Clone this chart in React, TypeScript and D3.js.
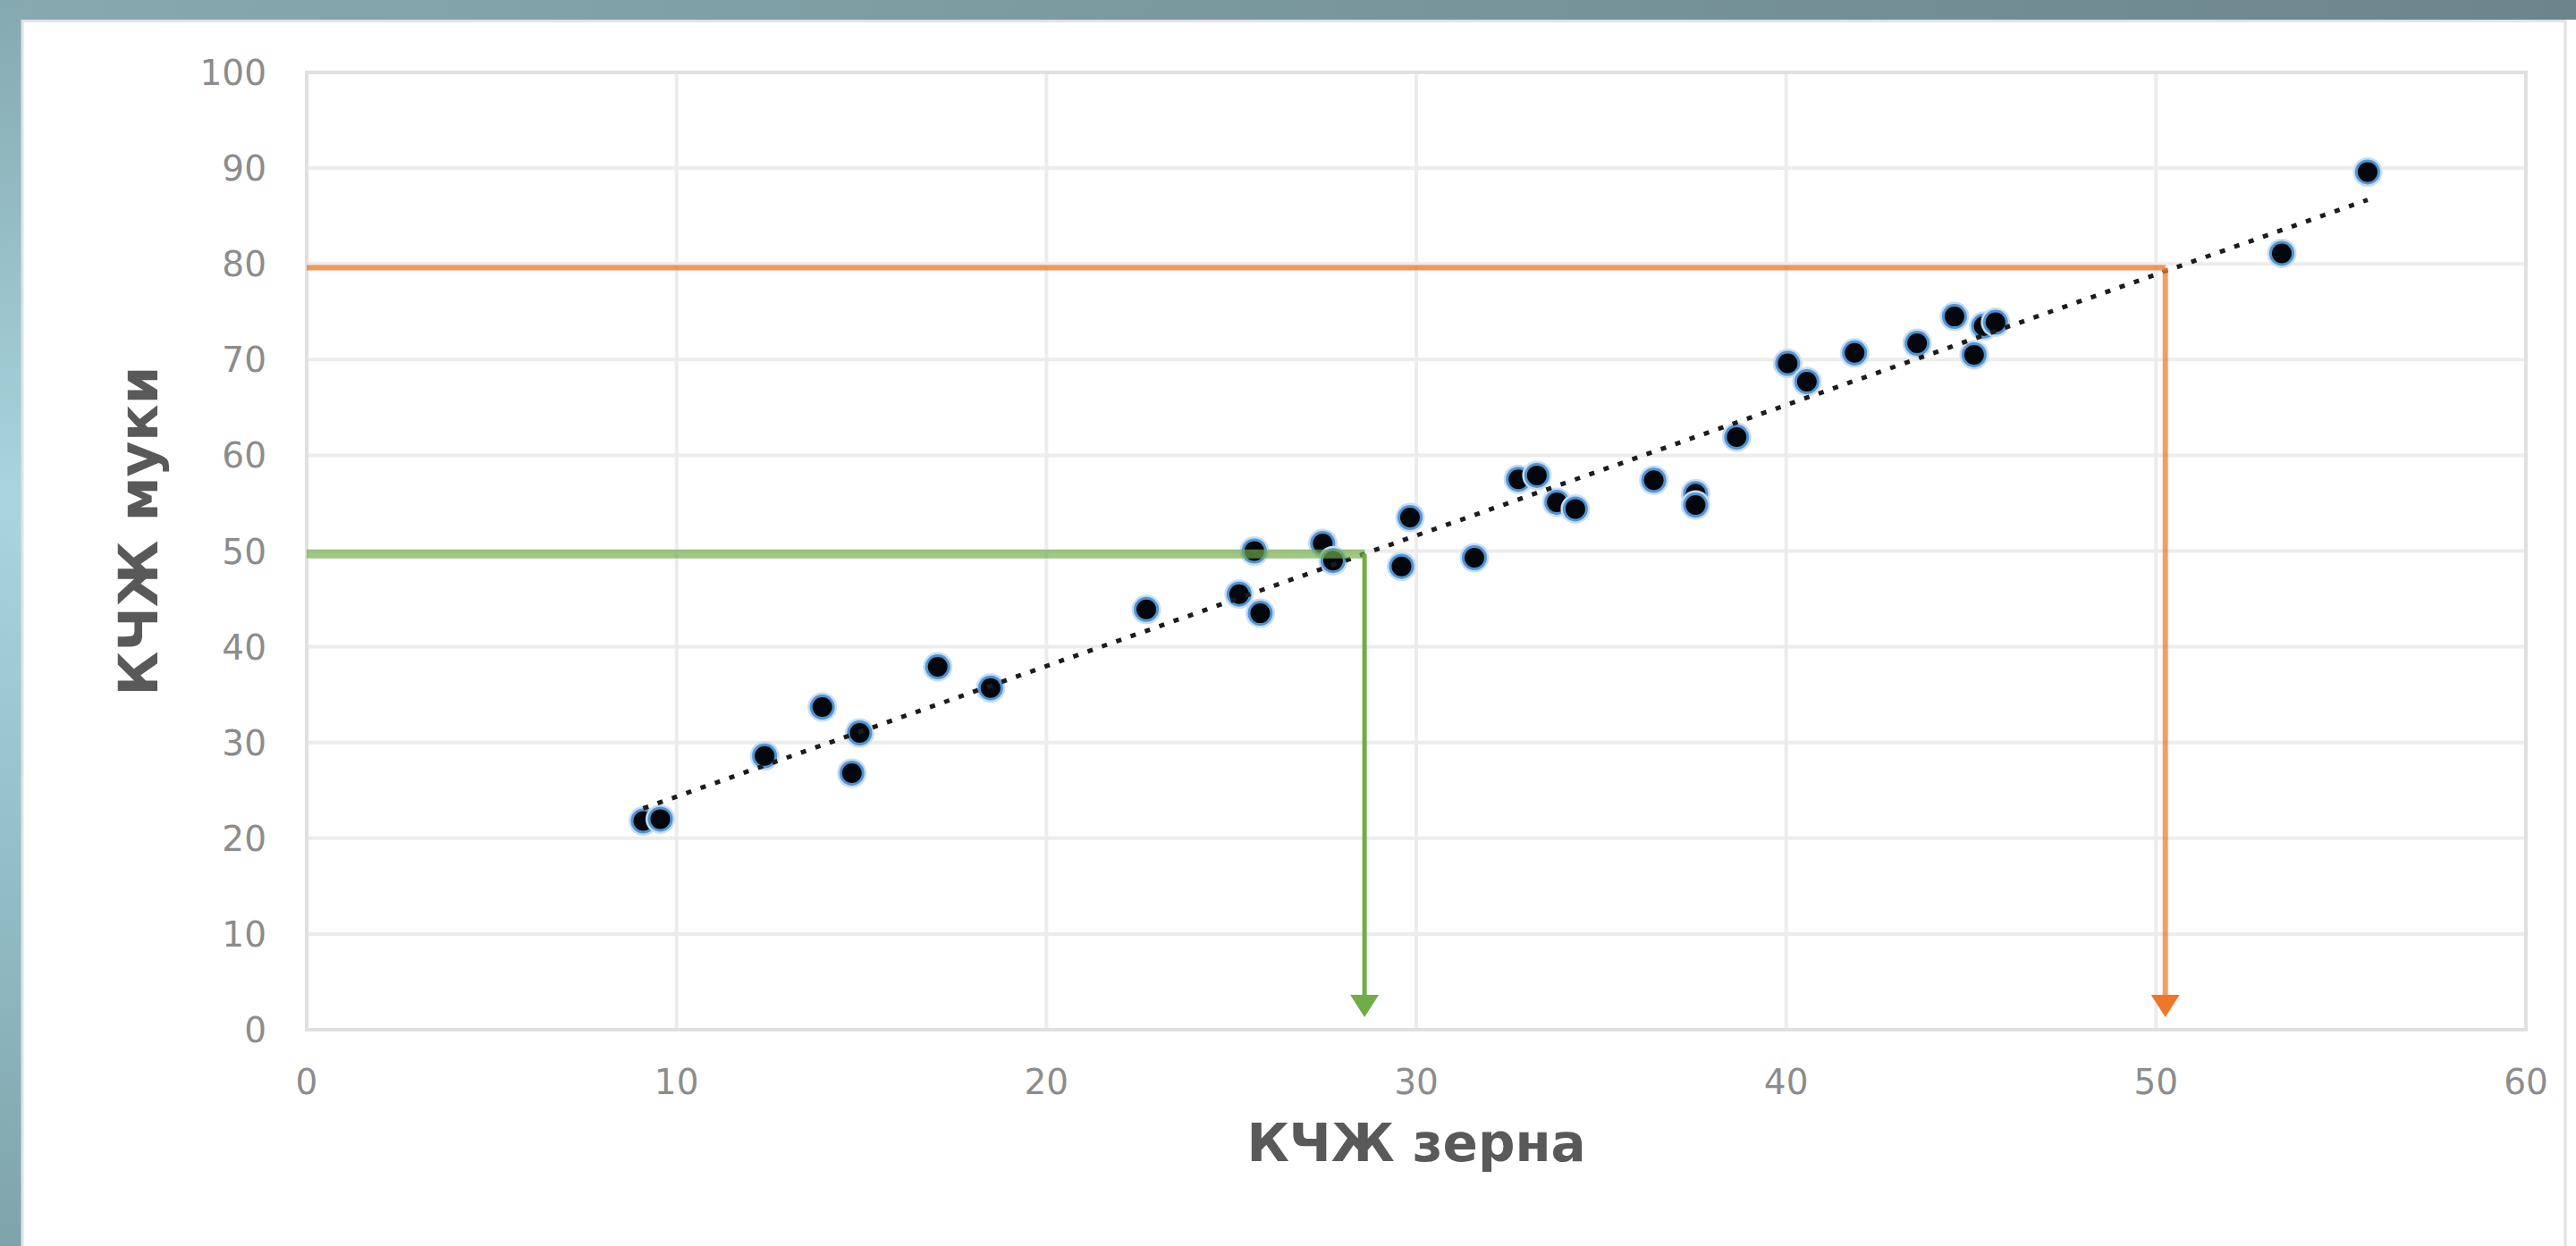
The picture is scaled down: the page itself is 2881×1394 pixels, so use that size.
import React, { useEffect, useRef } from 'react';
import * as d3 from 'd3';

// КЧЖ зерна (x) / КЧЖ муки (y)
const grainKch = [
  9.1, 9.56, 12.38, 13.94, 14.74, 14.95, 17.06, 18.49, 22.7, 25.21, 25.62, 25.78,
  27.47, 27.75, 29.6, 29.83, 31.57, 32.76, 33.26, 33.8, 34.3, 36.42, 37.55, 37.55,
  38.66, 40.04, 40.56, 41.85, 43.54, 44.55, 45.08, 45.34, 45.66, 53.4, 55.72,
];
const flourKch = [
  21.8, 22.0, 28.6, 33.7, 26.8, 31.0, 37.9, 35.7, 43.9, 45.5, 50.0, 43.5,
  50.8, 49.0, 48.4, 53.5, 49.3, 57.5, 57.9, 55.1, 54.4, 57.4, 56.0, 54.8,
  61.9, 69.6, 67.7, 70.7, 71.7, 74.5, 70.5, 73.5, 73.9, 81.1, 89.6,
];
const xTicks = [0, 10, 20, 30, 40, 50, 60];
const yTicks = [0, 10, 20, 30, 40, 50, 60, 70, 80, 90, 100];

// guide lines: [x, y] where they meet the trend
const greenGuide = [28.6, 49.7];
const orangeGuide = [50.25, 79.6];
const arrowTipY = 1.3;

const W = 2881;
const H = 1394;
const FONT = '"DejaVu Sans", Verdana, sans-serif';

const App = () => {
  const svgRef = useRef(null);

  useEffect(() => {
    const svg = d3.select(svgRef.current);
    svg.selectAll('*').remove();

    const x = d3.scaleLinear().domain([0, 60]).range([343, 2825]);
    const y = d3.scaleLinear().domain([0, 100]).range([1152, 81]);

    const defs = svg.append('defs');
    const topGrad = defs.append('linearGradient').attr('id', 'topband').attr('x1', 0).attr('x2', 1);
    topGrad.append('stop').attr('offset', 0).attr('stop-color', '#86aab0');
    topGrad.append('stop').attr('offset', 1).attr('stop-color', '#6c858b');
    const leftGrad = defs
      .append('linearGradient')
      .attr('id', 'leftband')
      .attr('x1', 0)
      .attr('x2', 0)
      .attr('y1', 0)
      .attr('y2', 1);
    leftGrad.append('stop').attr('offset', 0).attr('stop-color', '#85a9b0');
    leftGrad.append('stop').attr('offset', 0.4).attr('stop-color', '#a9d5de');
    leftGrad.append('stop').attr('offset', 0.7).attr('stop-color', '#93bec7');
    leftGrad.append('stop').attr('offset', 1).attr('stop-color', '#7fa3aa');

    // slide background and the white chart card
    svg.append('rect').attr('width', W).attr('height', H).attr('fill', '#ffffff');
    svg.append('rect').attr('width', W).attr('height', 22).attr('fill', 'url(#topband)');
    svg.append('rect').attr('width', 25).attr('height', H).attr('fill', 'url(#leftband)');
    svg
      .append('path')
      .attr('d', `M25,${H}V23.5H2869V${H}`)
      .attr('fill', 'none')
      .attr('stroke', '#e2e2e2')
      .attr('stroke-width', 3);

    // grid
    const grid = svg.append('g').attr('stroke', '#ececec').attr('stroke-width', 4);
    grid
      .selectAll('line.v')
      .data(xTicks)
      .join('line')
      .attr('class', 'v')
      .attr('x1', (d) => x(d))
      .attr('x2', (d) => x(d))
      .attr('y1', y(100))
      .attr('y2', y(0));
    grid
      .selectAll('line.h')
      .data(yTicks)
      .join('line')
      .attr('class', 'h')
      .attr('x1', x(0))
      .attr('x2', x(60))
      .attr('y1', (d) => y(d))
      .attr('y2', (d) => y(d));
    svg
      .append('rect')
      .attr('x', x(0))
      .attr('y', y(100))
      .attr('width', x(60) - x(0))
      .attr('height', y(0) - y(100))
      .attr('fill', 'none')
      .attr('stroke', '#e0e0e0')
      .attr('stroke-width', 4);

    // points
    const points = grainKch.map((g, i) => ({ gx: g, fy: flourKch[i] }));
    const dots = svg
      .append('g')
      .selectAll('g')
      .data(points)
      .join('g')
      .attr('transform', (d) => `translate(${x(d.gx)},${y(d.fy)})`);
    dots.append('circle').attr('r', 16.5).attr('fill', '#c6def5');
    dots.append('circle').attr('r', 14).attr('fill', '#4f94d6');
    dots.append('circle').attr('r', 11).attr('fill', '#04080d');

    // linear trend (least squares)
    const mx = d3.mean(grainKch);
    const my = d3.mean(flourKch);
    const sxy = d3.sum(points, (d) => (d.gx - mx) * (d.fy - my));
    const sxx = d3.sum(points, (d) => (d.gx - mx) ** 2);
    const slope = sxy / sxx;
    const icpt = my - slope * mx;
    const [x0, x1] = d3.extent(grainKch);
    svg
      .append('path')
      .datum([x0, x1])
      .attr('d', d3.line().x((d) => x(d)).y((d) => y(icpt + slope * d)))
      .attr('fill', 'none')
      .attr('stroke', '#1c1c1c')
      .attr('stroke-width', 5)
      .attr('stroke-dasharray', '6 11');

    const arrow = (gx, color) => {
      const tip = y(arrowTipY);
      const cx = x(gx);
      return svg
        .append('path')
        .attr('d', `M${cx - 16},${tip - 25}L${cx + 16},${tip - 25}L${cx},${tip}Z`)
        .attr('fill', color);
    };

    // green guide
    svg
      .append('line')
      .attr('x1', x(0))
      .attr('x2', x(greenGuide[0]))
      .attr('y1', y(greenGuide[1]))
      .attr('y2', y(greenGuide[1]))
      .attr('stroke', '#70ad47')
      .attr('stroke-opacity', 0.68)
      .attr('stroke-width', 10);
    svg
      .append('line')
      .attr('x1', x(greenGuide[0]))
      .attr('x2', x(greenGuide[0]))
      .attr('y1', y(greenGuide[1]))
      .attr('y2', y(arrowTipY) - 20)
      .attr('stroke', '#70ad47')
      .attr('stroke-width', 5);
    arrow(greenGuide[0], '#70ad47');

    // orange guide
    svg
      .append('line')
      .attr('x1', x(0))
      .attr('x2', x(orangeGuide[0]))
      .attr('y1', y(orangeGuide[1]))
      .attr('y2', y(orangeGuide[1]))
      .attr('stroke', '#ed7d31')
      .attr('stroke-opacity', 0.8)
      .attr('stroke-width', 6);
    svg
      .append('line')
      .attr('x1', x(orangeGuide[0]))
      .attr('x2', x(orangeGuide[0]))
      .attr('y1', y(orangeGuide[1]))
      .attr('y2', y(arrowTipY) - 20)
      .attr('stroke', '#ed7d31')
      .attr('stroke-opacity', 0.75)
      .attr('stroke-width', 6);
    arrow(orangeGuide[0], '#ee7628');

    // tick labels
    svg
      .append('g')
      .selectAll('text')
      .data(yTicks)
      .join('text')
      .attr('x', 298)
      .attr('y', (d) => y(d))
      .attr('dy', '0.36em')
      .attr('text-anchor', 'end')
      .attr('font-family', FONT)
      .attr('font-size', 39)
      .attr('fill', '#8c8c8c')
      .text((d) => d);
    svg
      .append('g')
      .selectAll('text')
      .data(xTicks)
      .join('text')
      .attr('x', (d) => x(d))
      .attr('y', 1224)
      .attr('text-anchor', 'middle')
      .attr('font-family', FONT)
      .attr('font-size', 39)
      .attr('fill', '#8c8c8c')
      .text((d) => d);

    // axis titles
    svg
      .append('text')
      .attr('x', (x(0) + x(60)) / 2)
      .attr('y', 1299)
      .attr('text-anchor', 'middle')
      .attr('font-family', FONT)
      .attr('font-weight', 'bold')
      .attr('font-size', 58)
      .attr('fill', '#595959')
      .text('КЧЖ зерна');
    svg
      .append('text')
      .attr('transform', 'translate(176,594) rotate(-90)')
      .attr('text-anchor', 'middle')
      .attr('font-family', FONT)
      .attr('font-weight', 'bold')
      .attr('font-size', 61)
      .attr('fill', '#595959')
      .text('КЧЖ муки');
  }, []);

  return (
    <svg
      ref={svgRef}
      width={W}
      height={H}
      style={{ position: 'absolute', left: 0, top: 0, display: 'block' }}
    />
  );
};

export default App;
